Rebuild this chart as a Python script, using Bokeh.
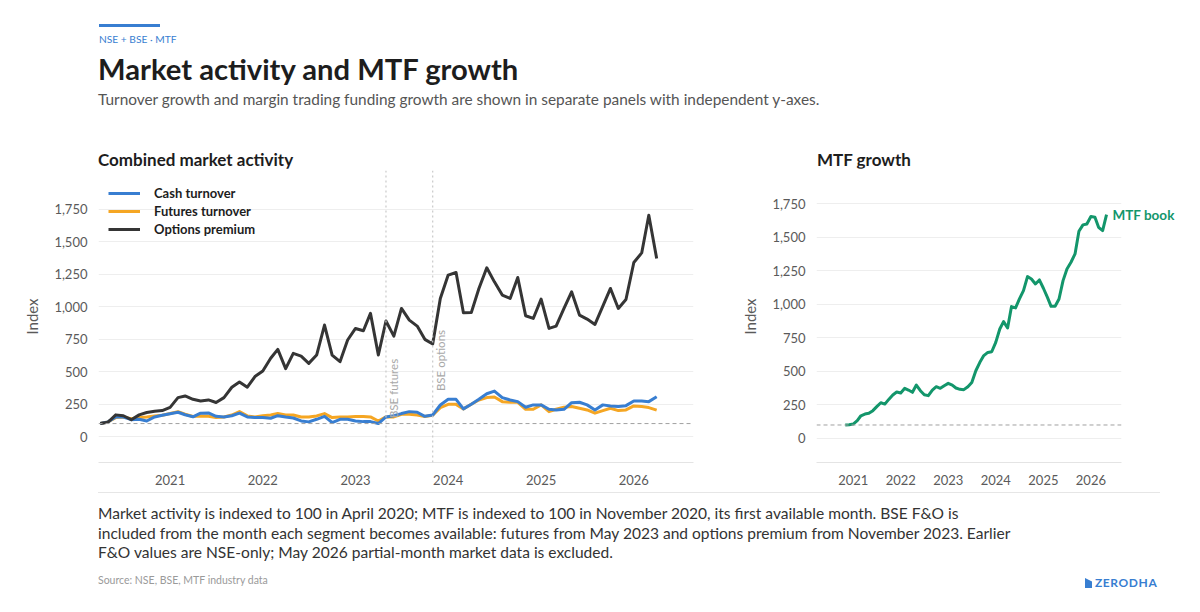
import pandas as pd
from bokeh.plotting import figure
from bokeh.models import (Div, Span, Label, FixedTicker, NumeralTickFormatter, LinearAxis,
                          DatetimeTickFormatter, Legend, LegendItem, Range1d, ColumnDataSource)
from bokeh.layouts import column, row
from bokeh.embed import file_html
from bokeh.resources import INLINE

# ---------------- data ----------------
market_start = "2020-04-01"
cash_turnover = [100, 113, 150, 150, 130, 133, 120, 151, 164, 175,
                 187, 168, 152, 180, 182, 156, 151, 160, 180, 151,
                 146, 146, 141, 161, 151, 143, 120, 113, 133, 156,
                 108, 133, 133, 120, 115, 115, 100, 151, 161, 177,
                 192, 187, 156, 166, 243, 287, 287, 213, 249, 287,
                 330, 350, 300, 282, 269, 226, 244, 244, 210, 205,
                 210, 261, 264, 244, 205, 244, 236, 231, 238, 274,
                 274, 269, 306]
futures_turnover = [100, 113, 146, 150, 138, 146, 151, 159, 164, 177,
                    192, 172, 154, 159, 156, 146, 151, 166, 192, 159,
                    151, 161, 166, 177, 166, 166, 151, 151, 159, 177,
                    146, 151, 151, 154, 154, 151, 120, 151, 151, 172,
                    172, 166, 154, 164, 223, 248, 248, 213, 249, 282,
                    300, 305, 269, 264, 264, 210, 210, 244, 192, 210,
                    226, 231, 218, 205, 180, 200, 218, 200, 205, 236,
                    231, 223, 203]
options_premium = [100, 110, 167, 160, 130, 167, 185, 195, 200, 225,
                   300, 313, 287, 274, 282, 262, 300, 380, 420, 380,
                   462, 505, 603, 672, 523, 641, 620, 564, 628, 859,
                   628, 577, 744, 833, 815, 949, 628, 890, 774, 987,
                   897, 851, 749, 713, 1064, 1244, 1264, 954, 955, 1141,
                   1300, 1192, 1090, 1064, 1226, 931, 910, 1059, 833, 851,
                   987, 1115, 936, 905, 864, 1005, 1141, 987, 1056, 1341,
                   1415, 1705, 1372]
mtf_start = "2020-11-01"
mtf_book = [100, 102, 107, 132, 169, 182, 187, 207, 237, 266,
            256, 291, 324, 346, 339, 374, 361, 344, 398, 356,
            326, 319, 361, 386, 374, 393, 411, 398, 376, 366,
            364, 386, 418, 505, 568, 618, 642, 647, 717, 817,
            872, 824, 984, 974, 1041, 1103, 1208, 1190, 1153, 1183,
            1121, 1053, 986, 986, 1041, 1178, 1265, 1315, 1377, 1546,
            1594, 1601, 1656, 1651, 1576, 1551, 1671]
y_ticks = [0, 250, 500, 750, 1000, 1250, 1500, 1750]
year_ticks = [2021, 2022, 2023, 2024, 2025, 2026]
base_index = 100
event_dates = ["2023-05-01", "2023-11-01"]
event_labels = ["BSE futures", "BSE options"]
event_label_y = [142, 350]

# ---------------- styling ----------------
FONT = "Lato"
BLUE = "#387ed1"
ORANGE = "#f5a623"
DARK = "#353535"
GREEN = "#13966b"
TICK = "#5a5a5a"


def ms(d):
    return pd.Timestamp(d).value / 1e6


market_dates = pd.date_range(market_start, periods=len(cash_turnover), freq="MS")
mtf_dates = pd.date_range(mtf_start, periods=len(mtf_book), freq="MS")
x_start, x_end = ms("2020-03-25"), ms("2026-08-24")
year_ms = [ms(f"{y}-01-01") for y in year_ticks]

market_src = ColumnDataSource(dict(date=market_dates, cash=cash_turnover,
                                   fut=futures_turnover, opt=options_premium))
mtf_src = ColumnDataSource(dict(date=mtf_dates, mtf=mtf_book))


def style(p):
    p.outline_line_color = None
    p.background_fill_color = "white"
    p.border_fill_color = "white"
    p.xgrid.grid_line_color = None
    p.ygrid.grid_line_color = "#eeeeee"
    p.ygrid.grid_line_width = 1
    p.yaxis.ticker = FixedTicker(ticks=y_ticks)
    p.yaxis.formatter = NumeralTickFormatter(format="0,0")
    p.xaxis.ticker = FixedTicker(ticks=year_ms)
    p.xaxis.formatter = DatetimeTickFormatter(years="%Y", months="%Y", days="%Y",
                                              hours="%Y", minutes="%Y", seconds="%Y",
                                              milliseconds="%Y", microseconds="%Y")
    for ax in (p.xaxis[0], p.yaxis[0]):
        ax.major_tick_line_color = None
        ax.minor_tick_line_color = None
        ax.major_label_text_font = FONT
        ax.major_label_text_font_size = "13px"
        ax.major_label_text_color = TICK
    p.yaxis.major_label_standoff = 5
    p.xaxis.major_label_standoff = 6
    p.yaxis.axis_line_color = None
    p.xaxis.axis_line_color = "#e4e4e4"
    p.yaxis.axis_label = "Index"
    p.yaxis.axis_label_text_font = FONT
    p.yaxis.axis_label_text_font_size = "15px"
    p.yaxis.axis_label_text_font_style = "normal"
    p.yaxis.axis_label_text_color = TICK
    p.yaxis.axis_label_standoff = 10
    p.add_layout(Span(location=base_index, dimension="width", line_color="#a0a0a0",
                      line_dash="4 3", line_width=1))


# ---------------- left panel ----------------
p1 = figure(frame_width=595, frame_height=292, x_axis_type="datetime",
            x_range=Range1d(x_start, x_end), y_range=Range1d(-200, 2050),
            min_border_left=90, min_border_right=10, min_border_top=2, min_border_bottom=30,
            output_backend="svg", toolbar_location=None)
style(p1)
for d, lab, ly in zip(event_dates, event_labels, event_label_y):
    p1.add_layout(Span(location=ms(d), dimension="height", line_color="#c9c9c9",
                       line_dash="2 3", line_width=1.2))
    p1.add_layout(Label(x=ms(d), y=ly, text=lab, angle=1.5708, x_offset=1,
                        text_align="left", text_baseline="top", text_font=FONT,
                        text_font_size="11.5px", text_color="#a8a8a8"))

r_fut = p1.line("date", "fut", source=market_src, line_color=ORANGE, line_width=3,
                line_join="round")
r_cash = p1.line("date", "cash", source=market_src, line_color=BLUE, line_width=3,
                 line_join="round")
r_opt = p1.line("date", "opt", source=market_src, line_color=DARK, line_width=3,
                line_join="round")

legend = Legend(items=[LegendItem(label="Cash turnover", renderers=[r_cash]),
                       LegendItem(label="Futures turnover", renderers=[r_fut]),
                       LegendItem(label="Options premium", renderers=[r_opt])],
                location=(10, 224), margin=0, padding=0, spacing=0,
                glyph_width=32, glyph_height=18, label_height=18, label_standoff=14,
                background_fill_alpha=0, border_line_color=None,
                label_text_font=FONT, label_text_font_size="13px",
                label_text_font_style="bold", label_text_color="#1d1d1d")
p1.add_layout(legend, "center")

# ---------------- right panel ----------------
p2 = figure(frame_width=305, frame_height=292, x_axis_type="datetime",
            x_range=Range1d(x_start, x_end), y_range=Range1d(-180, 2000),
            min_border_left=113, min_border_right=60, min_border_top=2, min_border_bottom=30,
            output_backend="svg", toolbar_location=None)
style(p2)
p2.line("date", "mtf", source=mtf_src, line_color=GREEN, line_width=3, line_join="round")
# end-of-line series label, drawn as a right-hand axis label at the last value
end_axis = LinearAxis(ticker=FixedTicker(ticks=[mtf_book[-1]]),
                      major_label_overrides={mtf_book[-1]: "MTF book"},
                      axis_line_color=None, major_tick_line_color=None,
                      minor_tick_line_color=None, major_label_standoff=-15,
                      major_label_text_font=FONT, major_label_text_font_size="13.5px",
                      major_label_text_font_style="bold", major_label_text_color=GREEN)
p2.add_layout(end_axis, "right")

# ---------------- header / footer ----------------
header_html = f"""
<div style="position:relative;width:1184px;height:160px;font-family:Lato,sans-serif;">
  <div style="position:absolute;left:91px;top:16px;width:61px;height:3px;background:{BLUE};"></div>
  <div style="position:absolute;left:91px;top:25px;font-size:10.2px;line-height:13px;color:{BLUE};white-space:nowrap;">NSE + BSE · MTF</div>
  <div style="position:absolute;left:90px;top:44px;font-size:29.2px;line-height:34px;font-weight:700;color:#1d1d1d;white-space:nowrap;">Market activity and MTF growth</div>
  <div style="position:absolute;left:90px;top:82px;font-size:15.4px;line-height:18px;color:#555;white-space:nowrap;">Turnover growth and margin trading funding growth are shown in separate panels with independent y-axes.</div>
  <div style="position:absolute;left:90px;top:142px;font-size:17px;line-height:20px;font-weight:700;color:#1d1d1d;white-space:nowrap;">Combined market activity</div>
  <div style="position:absolute;left:809px;top:142px;font-size:17px;line-height:20px;font-weight:700;color:#1d1d1d;white-space:nowrap;">MTF growth</div>
</div>
"""
footer_html = f"""
<div style="position:relative;width:1184px;height:112px;font-family:Lato,sans-serif;">
  <div style="position:absolute;left:90px;top:0px;width:1062px;height:1px;background:#e6e6e6;"></div>
  <div style="position:absolute;left:90px;top:12px;font-size:15.55px;line-height:19.6px;color:#333;white-space:nowrap;">Market activity is indexed to 100 in April 2020; MTF is indexed to 100 in November 2020, its first available month. BSE F&amp;O is<br>included from the month each segment becomes available: futures from May 2023 and options premium from November 2023. Earlier<br>F&amp;O values are NSE-only; May 2026 partial-month market data is excluded.</div>
  <div style="position:absolute;left:90px;top:82px;font-size:10.5px;line-height:13px;color:#9a9a9a;white-space:nowrap;">Source: NSE, BSE, MTF industry data</div>
  <div style="position:absolute;left:1077px;top:82px;height:13px;white-space:nowrap;">
    <span style="display:inline-block;width:7px;height:10px;background:{BLUE};clip-path:polygon(0 0,100% 35%,100% 100%,0 100%);vertical-align:-1px;margin-right:3px;"></span><span style="font-size:12px;line-height:13px;font-weight:700;color:{BLUE};letter-spacing:0.6px;">ZERODHA</span>
  </div>
</div>
"""
header = Div(text=header_html, width=1184, height=160, margin=0)
footer = Div(text=footer_html, width=1184, height=112, margin=0)

layout = column(header, row(p1, p2, spacing=0), footer, spacing=0, margin=(8, 0, 0, 8))
open("out.html", "w").write(file_html(layout, INLINE))
